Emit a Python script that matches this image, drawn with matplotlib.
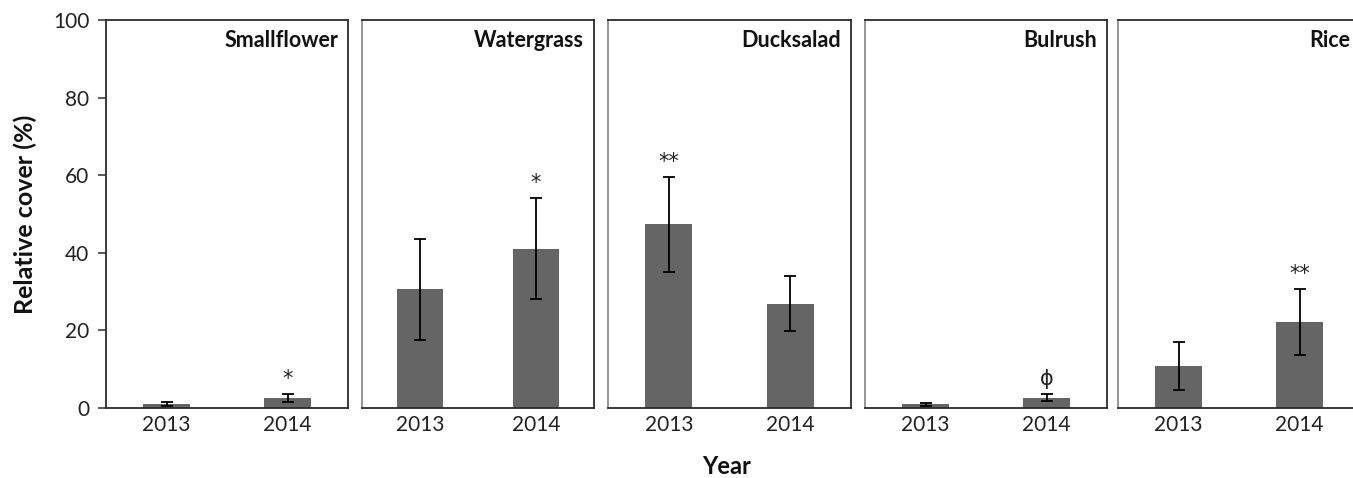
import numpy as np
import matplotlib
matplotlib.use("Agg")
import matplotlib.pyplot as plt

plt.rcParams['font.family'] = ['Lato', 'DejaVu Sans']

species = ["Smallflower", "Watergrass", "Ducksalad", "Bulrush", "Rice"]
years = ["2013", "2014"]

# mean relative cover (%) and error, per species: [2013, 2014]
cover = [
    [1.0, 2.5],
    [30.6, 41.1],
    [47.3, 26.9],
    [1.0, 2.6],
    [10.8, 22.1],
]
err = [
    [0.5, 1.0],
    [13.0, 13.0],
    [12.2, 7.0],
    [0.4, 0.9],
    [6.2, 8.5],
]
# significance marks: [2013, 2014]
sig = [
    ["", "*"],
    ["", "*"],
    ["**", ""],
    ["", "\u03d5"],
    ["", "**"],
]

W, H = 1353, 478
fig = plt.figure(figsize=(W / 100, H / 100), dpi=100)

# panel edges in pixels (left, right)
edges = [(106, 348), (362, 594), (608, 851), (865, 1107), (1118, 1360)]
top_px, bot_px = 20, 408

bar_color = "#656565"
spine_dark = "#2b2b2b"

x = np.arange(len(years))
for i, name in enumerate(species):
    l, r = edges[i]
    ax = fig.add_axes([l / W, (H - bot_px) / H, (r - l) / W, (bot_px - top_px) / H])
    ax.bar(x, cover[i], width=0.39, color=bar_color, zorder=2)
    ax.errorbar(x, cover[i], yerr=err[i], fmt="none", ecolor="black",
                elinewidth=1.3, capsize=4, capthick=1.3, zorder=3)
    for j in range(len(years)):
        if sig[i][j]:
            ax.annotate(sig[i][j], (x[j], cover[i][j] + err[i][j]),
                        xytext=(0, 4), textcoords="offset points",
                        ha="center", va="bottom", fontsize=15,
                        family="DejaVu Sans", color="#222222")
    ax.set_xlim(-0.5, 1.5)
    ax.set_ylim(0, 100)
    ax.set_xticks(x)
    ax.set_xticklabels(years, fontsize=15, color="#222222")
    ax.tick_params(axis="x", length=0, pad=5)
    ax.set_yticks(np.arange(0, 101, 20))
    if i == 0:
        ax.tick_params(axis="y", direction="out", length=6, width=1.1,
                       labelsize=15, pad=6, colors=spine_dark, labelcolor="#222222")
    else:
        ax.tick_params(axis="y", left=False, labelleft=False)
    for side, sp in ax.spines.items():
        sp.set_linewidth(1.3)
        sp.set_color(spine_dark)
    if i > 0:
        ax.spines["left"].set_color("#8c8c8c")
    ax.annotate(name, (1, 1), xycoords="axes fraction", xytext=(-7, -15),
                textcoords="offset points", ha="right", va="center",
                fontsize=15.5, fontweight="bold", color="#111111")
    if i == 0:
        ax.set_ylabel("Relative cover (%)", fontsize=18, fontweight="bold",
                      color="#111111")
        ax.yaxis.set_label_coords((37 - l) / (r - l), 0.5)

fig.text(727 / W, 1 - 467 / H, "Year", ha="center", va="center",
         fontsize=17, fontweight="bold", color="#111111")

fig.savefig("out.png", dpi=100)
